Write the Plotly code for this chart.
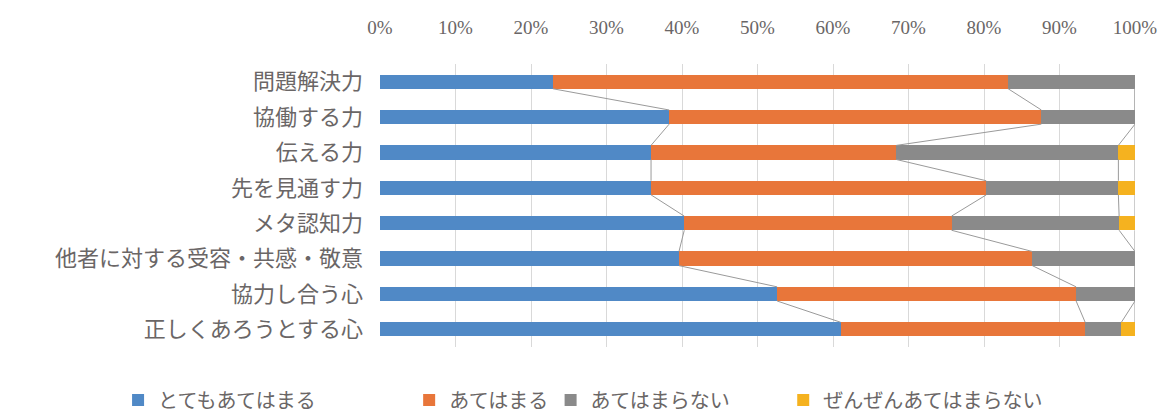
import plotly.graph_objects as go

# Survey items (top to bottom) and the share of each answer, in percent
categories = [
    "問題解決力",
    "協働する力",
    "伝える力",
    "先を見通す力",
    "メタ認知力",
    "他者に対する受容・共感・敬意",
    "協力し合う心",
    "正しくあろうとする心",
]
series_names = ["とてもあてはまる", "あてはまる", "あてはまらない", "ぜんぜんあてはまらない"]
very_true = [22.9, 38.3, 35.9, 35.9, 40.3, 39.6, 52.6, 61.0]
true = [60.3, 49.3, 32.5, 44.4, 35.4, 46.8, 39.6, 32.4]
not_true = [16.8, 12.4, 29.4, 17.5, 22.2, 13.6, 7.8, 4.8]
never_true = [0.0, 0.0, 2.2, 2.2, 2.1, 0.0, 0.0, 1.8]
tick_values = [0, 10, 20, 30, 40, 50, 60, 70, 80, 90, 100]
tick_labels = [f"{v}%" for v in tick_values]

colors = ["#5089c6", "#e8763a", "#8a8a8a", "#f5b21f"]
series_values = [very_true, true, not_true, never_true]
# each answer gets its own legend box so the entries sit apart along the bottom
legend_ids = ["legend", "legend2", "legend3", "legend4"]
legend_x = [0.101, 0.350, 0.471, 0.670]
bar_width = 0.4
rows = list(range(len(categories)))
text_color = "#6a6666"

fig = go.Figure()
for name, vals, col, lg in zip(series_names, series_values, colors, legend_ids):
    fig.add_trace(go.Bar(
        y=rows, x=vals, name=name, orientation="h", legend=lg,
        width=bar_width, marker=dict(color=col, line=dict(width=0)),
    ))

# Series lines joining the end of each segment between neighbouring bars
cum = [0.0] * len(categories)
for vals in series_values:
    cum = [c + v for c, v in zip(cum, vals)]
    xs, ys = [], []
    for i in range(len(categories) - 1):
        xs += [cum[i], cum[i + 1], None]
        ys += [i + bar_width / 2, i + 1 - bar_width / 2, None]
    fig.add_trace(go.Scatter(
        x=xs, y=ys, mode="lines", showlegend=False, hoverinfo="skip",
        line=dict(color="#9a9a9a", width=1),
    ))

legend_style = dict(
    orientation="h", xref="container", xanchor="left",
    yref="container", y=0.036, yanchor="middle",
    font=dict(size=20, color=text_color), itemwidth=30,
    bgcolor="rgba(0,0,0,0)",
)
layout_legends = {lg: dict(legend_style, x=lx) for lg, lx in zip(legend_ids, legend_x)}

fig.update_layout(
    width=1169, height=415,
    barmode="stack",
    paper_bgcolor="white", plot_bgcolor="white",
    margin=dict(l=380, r=31, t=64, b=68),
    font=dict(family="Noto Sans CJK JP", color=text_color, size=20),
    xaxis=dict(
        side="top", range=[0, 100], tickvals=tick_values, ticktext=tick_labels,
        showgrid=True, gridcolor="#d9d9d9", gridwidth=1, zeroline=False,
        showline=False, ticks="", ticklabelstandoff=25,
        tickfont=dict(family="Liberation Serif", size=19, color=text_color),
    ),
    yaxis=dict(
        tickvals=rows, ticktext=categories, autorange=False,
        range=[len(categories) - 0.5, -0.5],
        showgrid=False, zeroline=False, ticks="", ticklabelstandoff=16,
        tickfont=dict(size=22, color=text_color),
    ),
    **layout_legends,
)

fig.write_html("out.html")
